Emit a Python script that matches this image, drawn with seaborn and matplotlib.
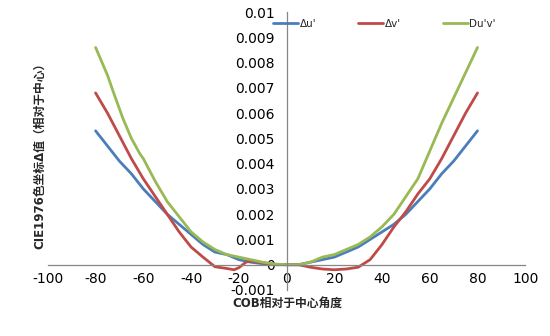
import numpy as np
import pandas as pd
import matplotlib
matplotlib.use("Agg")
import matplotlib.pyplot as plt
import seaborn as sns

# Δu'
angles_u = [-80, -75, -70, -65, -60, -55, -50, -45, -40, -35, -30, -25, -20, -15, -10, -5, 0,
            5, 10, 15, 20, 25, 30, 35, 40, 45, 50, 55, 60, 65, 70, 75, 80]
du = [0.0053, 0.0047, 0.0041, 0.0036, 0.0030, 0.0025, 0.0020, 0.0016, 0.0012, 0.0008, 0.0005,
      0.0004, 0.0002, 0.0001, 0.00004, 0.0, 0.0,
      0.0, 0.0001, 0.0002, 0.0003, 0.0005, 0.0007, 0.0010, 0.0013, 0.0016, 0.0020, 0.0025,
      0.0030, 0.0036, 0.0041, 0.0047, 0.0053]
# Δv'
angles_v = [-80, -75, -70, -65, -60, -55, -50, -45, -40, -35, -30, -25, -22, -20, -17, -15, -10, -5, 0,
            5, 10, 15, 20, 25, 30, 35, 40, 45, 50, 55, 60, 65, 70, 75, 80]
dv = [0.0068, 0.0060, 0.0051, 0.0042, 0.0034, 0.0027, 0.0020, 0.0013, 0.0007, 0.0003, -0.00008,
      -0.00015, -0.0002, -0.00012, 0.0001, 0.00015, 0.00007, 0.00001, 0.0,
      0.0, -0.0001, -0.00017, -0.0002, -0.00017, -0.0001, 0.0002, 0.0008, 0.0015, 0.0021, 0.0028,
      0.0034, 0.0042, 0.0051, 0.0060, 0.0068]
# Du'v'
angles_uv = [-80, -75, -72.8, -68.6, -65, -61.5, -60, -55, -50, -45, -40, -35, -30, -25, -20, -15, -10, -5, 0,
             5, 10, 15, 20, 25, 30, 35, 40, 45, 50, 55, 60, 65, 70, 75, 80]
duv = [0.0086, 0.0075, 0.0069, 0.0058, 0.0050, 0.0044, 0.0042, 0.0033, 0.0025, 0.0019, 0.0013,
       0.0009, 0.0006, 0.0004, 0.0003, 0.0002, 0.0001, 0.00003, 0.0,
       0.0, 0.0001, 0.0003, 0.0004, 0.0006, 0.0008, 0.0011, 0.0015, 0.0020, 0.0027, 0.0034,
       0.0045, 0.0056, 0.0066, 0.0076, 0.0086]

series_names = ["Δu'", "Δv'", "Du'v'"]
colors = ["#4A7EBB", "#BE4B48", "#98B954"]
x_ticks = [-100, -80, -60, -40, -20, 0, 20, 40, 60, 80, 100]
y_ticks = [-0.001, 0, 0.001, 0.002, 0.003, 0.004, 0.005, 0.006, 0.007, 0.008, 0.009, 0.01]
y_tick_labels = ["-0.001", "0", "0.001", "0.002", "0.003", "0.004", "0.005", "0.006",
                 "0.007", "0.008", "0.009", "0.01"]

df = pd.concat([
    pd.DataFrame({"angle": a, "value": v, "series": name})
    for name, a, v in zip(series_names, [angles_u, angles_v, angles_uv], [du, dv, duv])
])

sns.set_style("white")
plt.rcParams["font.family"] = ["DejaVu Sans", "Noto Sans CJK SC"]

fig = plt.figure(figsize=(5.5, 3.36), dpi=100)
ax = fig.add_axes([0.087, 0.137, 0.868, 0.827])

sns.lineplot(data=df, x="angle", y="value", hue="series", hue_order=series_names,
             palette=colors, linewidth=2.0, ax=ax, sort=False,
             solid_joinstyle="round", solid_capstyle="round")

ax.set_xlim(-100, 100)
ax.set_ylim(-0.001, 0.01)
ax.set_xticks(x_ticks)
ax.set_xticklabels([str(t) for t in x_ticks], fontsize=7)
ax.set_yticks(y_ticks)
ax.set_yticklabels(y_tick_labels, fontsize=7)

for s in ["top", "right"]:
    ax.spines[s].set_visible(False)
ax.spines["left"].set_position(("data", 0))
ax.spines["bottom"].set_position(("data", 0))
for s in ["left", "bottom"]:
    ax.spines[s].set_color("#868686")
    ax.spines[s].set_linewidth(0.9)
ax.tick_params(axis="both", which="major", direction="out", length=2.5, width=0.9,
               color="#868686", labelcolor="black")
ax.tick_params(axis="y", pad=6)
ax.tick_params(axis="x", pad=2.5)

ax.set_xlabel("")
ax.set_ylabel("")
fig.text(0.522, 0.096, "COB相对于中心角度", ha="center", va="center", fontsize=8.5,
         fontweight="bold", family=["DejaVu Sans", "Noto Sans CJK SC"])
fig.text(0.073, 0.545, "CIE1976色坐标Δ值（相对于中心）", ha="center", va="center", fontsize=8.5,
         fontweight="bold", rotation=90, family=["DejaVu Sans", "Noto Sans CJK SC"])

leg = ax.legend(loc="center left", bbox_to_anchor=(0.48, 0.93), bbox_transform=fig.transFigure,
                ncol=3, frameon=False, fontsize=7.5, handlelength=2.4, handletextpad=0.15,
                columnspacing=4.0)

fig.savefig("out.png", dpi=100)
